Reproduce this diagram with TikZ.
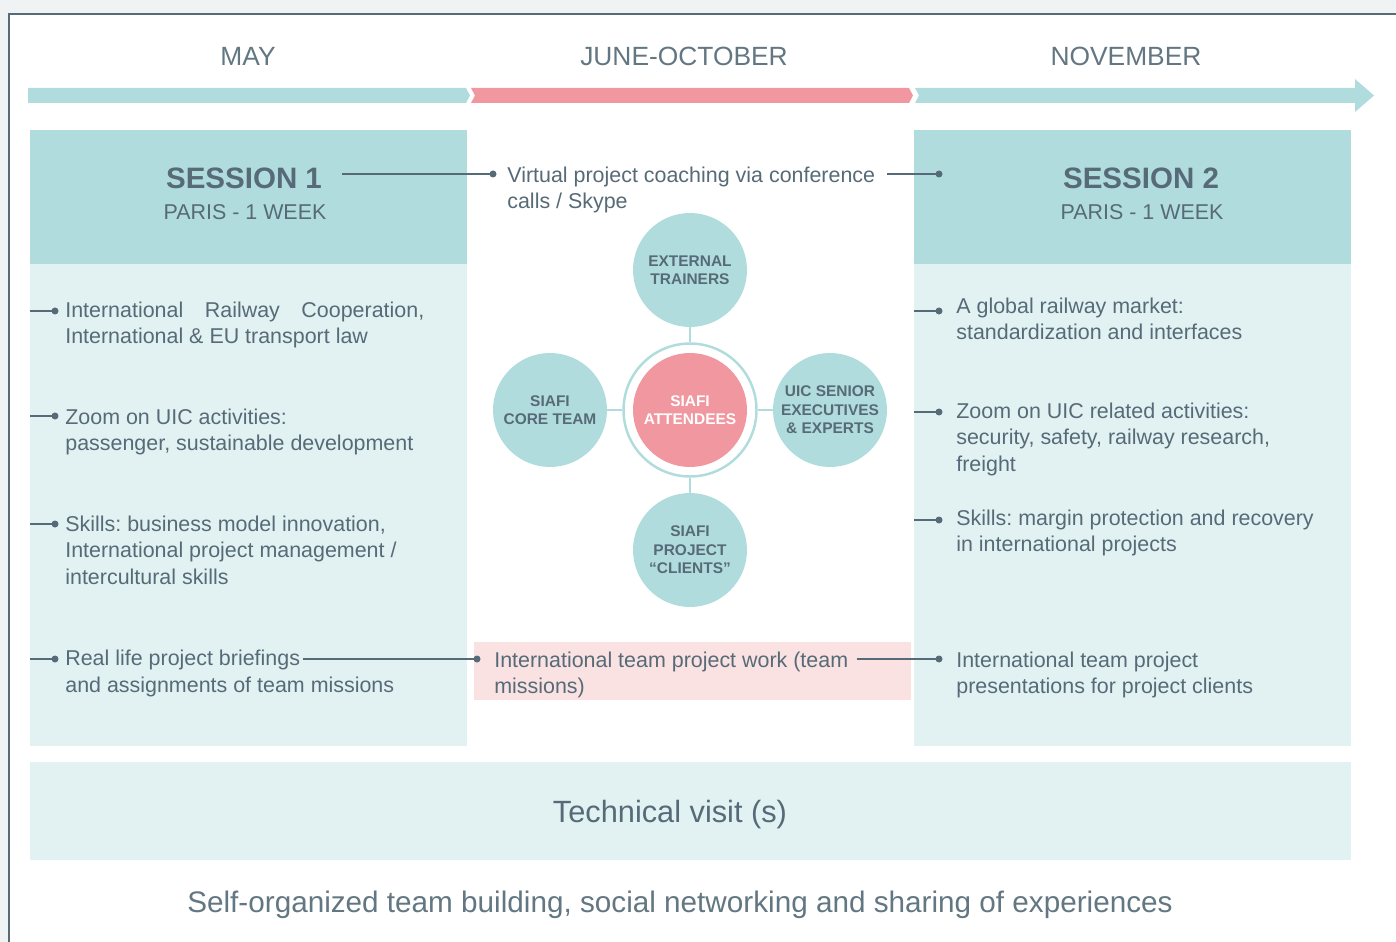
\documentclass[tikz,border=0pt]{standalone}
\usepackage{fontspec}
\setmainfont{Liberation Sans}
\usepackage{xcolor}
\definecolor{uicSlate}{HTML}{566B77}
\definecolor{uicTeal}{HTML}{B1DCDD}
\definecolor{uicPale}{HTML}{E2F2F3}
\definecolor{uicPink}{HTML}{F0979F}
\definecolor{uicBlush}{HTML}{FAE1E2}
\definecolor{uicBack}{HTML}{EFF3F4}
\usepackage{tikz}
\usetikzlibrary{
  positioning,
  calc
}
\frenchspacing
\tikzstyle{lead}=[draw=uicSlate, line width=1.1pt]
\tikzstyle{dot}=[fill=uicSlate]
\tikzstyle{spoke}=[draw=uicTeal, line width=1.3pt]
\tikzstyle{item}=[anchor=north west, inner sep=0pt, align=left, text=uicSlate, font=\fontsize{12.2}{15.1}\selectfont]
\tikzstyle{month}=[anchor=base, text=uicSlate!92, font=\fontsize{15}{18}\selectfont]
\tikzstyle{session}=[anchor=base, inner xsep=0.4cm, text=uicSlate, font=\bfseries\fontsize{16.8}{20}\selectfont]
\tikzstyle{place}=[anchor=base, text=uicSlate, font=\fontsize{12.2}{15}\selectfont]
\tikzstyle{member}=[circle, fill=uicTeal, minimum size=2.28cm, inner sep=0pt, align=center, text=uicSlate, font=\bfseries\fontsize{8.8}{10.5}\selectfont]

\begin{document}
\begin{tikzpicture}[x=0.02cm, y=-0.02cm]
      \def\xl{30};
      \def\xr{914};
      \def\dotr{3.5};

      % 背景と枠
      \useasboundingbox (0,0) rectangle (1396,942);
      \fill[uicBack] (0,0) rectangle (1396,942);
      \fill[white] (9,14) rectangle (1396,942);
      \draw[uicSlate, line width=1.2pt] (9,942) -- (9,14) -- (1396,14);

      % 時間軸
      \fill[uicTeal] (28,88) -- (466,88) -- (470,95.5) -- (466,103) -- (28,103) -- cycle;
      \fill[uicPink] (471,88) -- (909,88) -- (913,95.5) -- (909,103) -- (471,103) -- (475,95.5) -- cycle;
      \fill[uicTeal] (915,88) -- (1355,88) -- (1355,79) -- (1374,95.5) -- (1355,112) -- (1355,103) -- (915,103) -- (919,95.5) -- cycle;

      % 月
      \node[month] (may) at (248,66) {MAY};
      \node[month] (juneoct) at (684,66) {JUNE-OCTOBER};
      \node[month] (nov) at (1126,66) {NOVEMBER};

      % パネル
      \fill[uicTeal] (\xl,130) rectangle (467,264);
      \fill[uicPale] (\xl,264) rectangle (467,746);
      \fill[uicTeal] (\xr,130) rectangle (1351,264);
      \fill[uicPale] (\xr,264) rectangle (1351,746);
      \fill[uicBlush] (474,642) rectangle (911,700);
      \fill[uicPale] (\xl,762) rectangle (1351,860);

      % セッション見出し
      \node[session] (s1title) at (244,189) {SESSION 1};
      \node[place] (s1place) at (245,220) {PARIS - 1 WEEK};
      \node[session] (s2title) at (1141,189) {SESSION 2};
      \node[place] (s2place) at (1142,220) {PARIS - 1 WEEK};

      % 点の座標
      \coordinate (ledge) at (\xl,0);
      \coordinate (redge) at (\xr,0);
      \coordinate (vdot) at (493,174);
      \coordinate (s2dot) at (939,174);
      \coordinate (la) at (55,311);
      \coordinate (lb) at (55,416);
      \coordinate (lc) at (55,524);
      \coordinate (ld) at (55,659);
      \coordinate (bdot) at (477,659);
      \coordinate (ra) at (939,311);
      \coordinate (rb) at (939,412);
      \coordinate (rc) at (939,520);
      \coordinate (pdot) at (939,659);

      % 遠隔コーチング
      \node[item] (virtual) at (507,166.5) {Virtual project coaching via conference\\calls / Skype};
      \draw[lead] (s1title.east |- vdot) -- (vdot);
      \draw[lead] ($(virtual.east |- vdot)+(12,0)$) -- (s2dot);

      % セッション1の項目
      \node[item] (lawtext) at (65,301.5) {\makebox[7.18cm][s]{International Railway Cooperation,}\\International \& EU transport law};
      \node[item] (uictext) at (65,408.5) {Zoom on UIC activities:\\passenger, sustainable development};
      \node[item] (skilltext) at (65,515.5) {Skills: business model innovation,\\International project management /\\intercultural skills};
      \node[item] (brief) at (65,650) {Real life project briefings};
      \node[item] (assign) at (65,676.5) {and assignments of team missions};
      \draw[lead] (ledge |- la) -- (la);
      \draw[lead] (ledge |- lb) -- (lb);
      \draw[lead] (ledge |- lc) -- (lc);
      \draw[lead] (ledge |- ld) -- (ld);

      % チームプロジェクト
      \node[item] (teamwork) at (494,651.5) {International team project work (team\\missions)};
      \draw[lead] ($(brief.east |- bdot)+(3,0)$) -- (bdot);
      \draw[lead] ($(teamwork.east |- pdot)+(8,0)$) -- (pdot);

      % セッション2の項目
      \node[item] (markettext) at (956,297.5) {A global railway market:\\standardization and interfaces};
      \node[item] (uic2text) at (956,402.5) {Zoom on UIC related activities:\\security, safety, railway research,\\freight};
      \node[item] (margintext) at (956,509.5) {Skills: margin protection and recovery\\in international projects};
      \node[item] (presenttext) at (956,651.5) {International team project\\presentations for project clients};
      \draw[lead] (redge |- ra) -- (ra);
      \draw[lead] (redge |- rb) -- (rb);
      \draw[lead] (redge |- rc) -- (rc);

      % 点
      \foreach \p in {vdot, s2dot, la, lb, lc, ld, bdot, ra, rb, rc, pdot}
        \fill[dot] (\p) circle (\dotr);

      % 関係者の輪
      \node[circle, draw=uicTeal, line width=1.4pt, minimum size=2.66cm, inner sep=0pt] (ring) at (690,410) {};
      \node[member, fill=uicPink, text=white] (attend) at (690,410) {SIAFI\\ATTENDEES};
      \node[member] (trainers) at (690,270) {EXTERNAL\\TRAINERS};
      \node[member] (core) at (550,410) {SIAFI\\CORE TEAM};
      \node[member] (execs) at (830,410) {UIC SENIOR\\EXECUTIVES\\\& EXPERTS};
      \node[member] (clients) at (690,550) {SIAFI\\PROJECT\\``CLIENTS''};
      \draw[spoke] (trainers) -- (ring);
      \draw[spoke] (core) -- (ring);
      \draw[spoke] (execs) -- (ring);
      \draw[spoke] (clients) -- (ring);

      % 下段
      \node[anchor=base, text=uicSlate, font=\fontsize{17.5}{21}\selectfont] (visit) at (670,822) {Technical visit (s)};
      \node[anchor=base, text=uicSlate!92, font=\fontsize{16.9}{20}\selectfont] (social) at (680,912) {Self-organized team building, social networking and sharing of experiences};
    \end{tikzpicture}
\end{document}
